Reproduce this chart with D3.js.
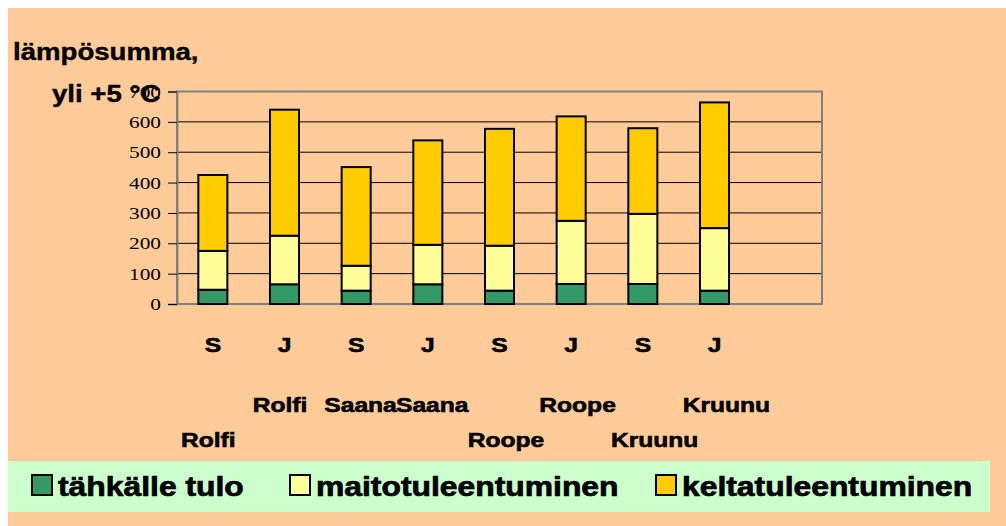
<!DOCTYPE html>
<html>
<head>
<meta charset="utf-8">
<script src="https://cdn.jsdelivr.net/npm/d3@7"></script>
<style>
  html, body { margin: 0; padding: 0; background: #fff; }
  svg { display: block; }
</style>
</head>
<body>
<svg id="chart" width="1006" height="526"></svg>
<script>
// ---- data ----
const categories = ["S", "J", "S", "J", "S", "J", "S", "J"];
const varieties = ["Rolfi", "Rolfi", "Saana", "Saana", "Roope", "Roope", "Kruunu", "Kruunu"];
const nameTier = [2, 1, 1, 1, 2, 1, 2, 1];
const seriesNames = ["tähkälle tulo", "maitotuleentuminen", "keltatuleentuminen"];
const tahkalleTulo = [47, 65, 44, 65, 44, 66, 66, 44];
const maitotuleentuminen = [128, 160, 82, 130, 148, 208, 231, 206];
const keltatuleentuminen = [250, 415, 325, 344, 385, 344, 282, 414];
const yTicks = [0, 100, 200, 300, 400, 500, 600, 700];
const titleLines = ["lämpösumma,", "yli +5 °C"];

// ---- setup ----
const svg = d3.select("#chart");
const colors = ["#339966", "#FFFF99", "#FFCC00"];
const plot = { left: 177, right: 822, top: 91.5, bottom: 304 };
const SX = 1.2;

svg.append("rect").attr("x", 8).attr("y", 8).attr("width", 998).attr("height", 518).attr("fill", "#FFCC99");

const nSlots = categories.length + 1;
const x = d3.scaleBand().domain(d3.range(nSlots)).range([plot.left, plot.right])
  .paddingInner(0.595).paddingOuter(0.2975);
const y = d3.scaleLinear().domain([0, 700]).range([plot.bottom, plot.top]);

function txt(parent, px, py, s, o) {
  o = o || {};
  return parent.append("text")
    .attr("transform", `translate(${px},${py}) scale(${o.sx || SX},1)`)
    .attr("text-anchor", o.anchor || "start")
    .attr("font-family", o.family || "'Liberation Sans', Arial, sans-serif")
    .attr("font-weight", o.weight || "bold")
    .attr("font-size", o.size || 20)
    .attr("fill", "#000")
    .attr("stroke", o.stroke ? "#000" : "none")
    .attr("stroke-width", o.stroke || 0)
    .text(s);
}

// gridlines
svg.append("g").selectAll("line").data(yTicks.filter(t => t > 0 && t < 700)).join("line")
  .attr("x1", plot.left).attr("x2", plot.right)
  .attr("y1", d => y(d)).attr("y2", d => y(d))
  .attr("stroke", "#000").attr("stroke-width", 1);

// plot frame
svg.append("rect").attr("x", plot.left).attr("y", y(700))
  .attr("width", plot.right - plot.left).attr("height", y(0) - y(700))
  .attr("fill", "none").attr("stroke", "#808080").attr("stroke-width", 2);

// y axis
const yAxis = d3.axisLeft(y).tickValues(yTicks).tickSize(9).tickFormat("");
const ya = svg.append("g").attr("transform", `translate(${plot.left},0)`).call(yAxis);
ya.select(".domain").attr("stroke", "#808080").attr("stroke-width", 2);
ya.selectAll(".tick line").attr("stroke", "#000");
yTicks.forEach(t => {
  txt(svg, 161, y(t) + 6, String(t), { anchor: "end", family: "'Liberation Serif', 'Times New Roman', serif", weight: "normal", size: 17.5, sx: 1.22 });
});

// stacked bars
const rows = categories.map((c, i) => ({ i, a: tahkalleTulo[i], b: maitotuleentuminen[i], c: keltatuleentuminen[i] }));
const stack = d3.stack().keys(["a", "b", "c"])(rows);
svg.append("g").selectAll("g").data(stack).join("g")
  .attr("fill", (d, k) => colors[k])
  .selectAll("rect").data(d => d).join("rect")
  .attr("x", d => x(d.data.i))
  .attr("width", x.bandwidth())
  .attr("y", d => y(d[1]))
  .attr("height", d => y(d[0]) - y(d[1]))
  .attr("stroke", "#000").attr("stroke-width", 2);

// title
txt(svg, 13, 60, titleLines[0], { size: 23, stroke: 0.4 });
txt(svg, 52, 102, titleLines[1], { size: 23, stroke: 0.4 });

// category labels
categories.forEach((c, i) => {
  txt(svg, x(i) + x.bandwidth() / 2, 352, c, { anchor: "middle", size: 20.5, stroke: 0.6 });
  const bandStart = plot.left + x.step() * i;
  txt(svg, bandStart + 4, nameTier[i] === 1 ? 412 : 447, varieties[i], { size: 20.5, stroke: 0.6 });
});

// legend
svg.append("rect").attr("x", 8).attr("y", 461).attr("width", 982).attr("height", 51).attr("fill", "#CCFFCC");
const legendX = [32, 290, 656];
seriesNames.forEach((s, k) => {
  svg.append("rect").attr("x", legendX[k]).attr("y", 475).attr("width", 20).attr("height", 20)
    .attr("fill", colors[k]).attr("stroke", "#000").attr("stroke-width", 2);
  txt(svg, legendX[k] + 26, 496, s, { size: 27, sx: 1.18, stroke: 0.7 });
});
</script>
</body>
</html>
